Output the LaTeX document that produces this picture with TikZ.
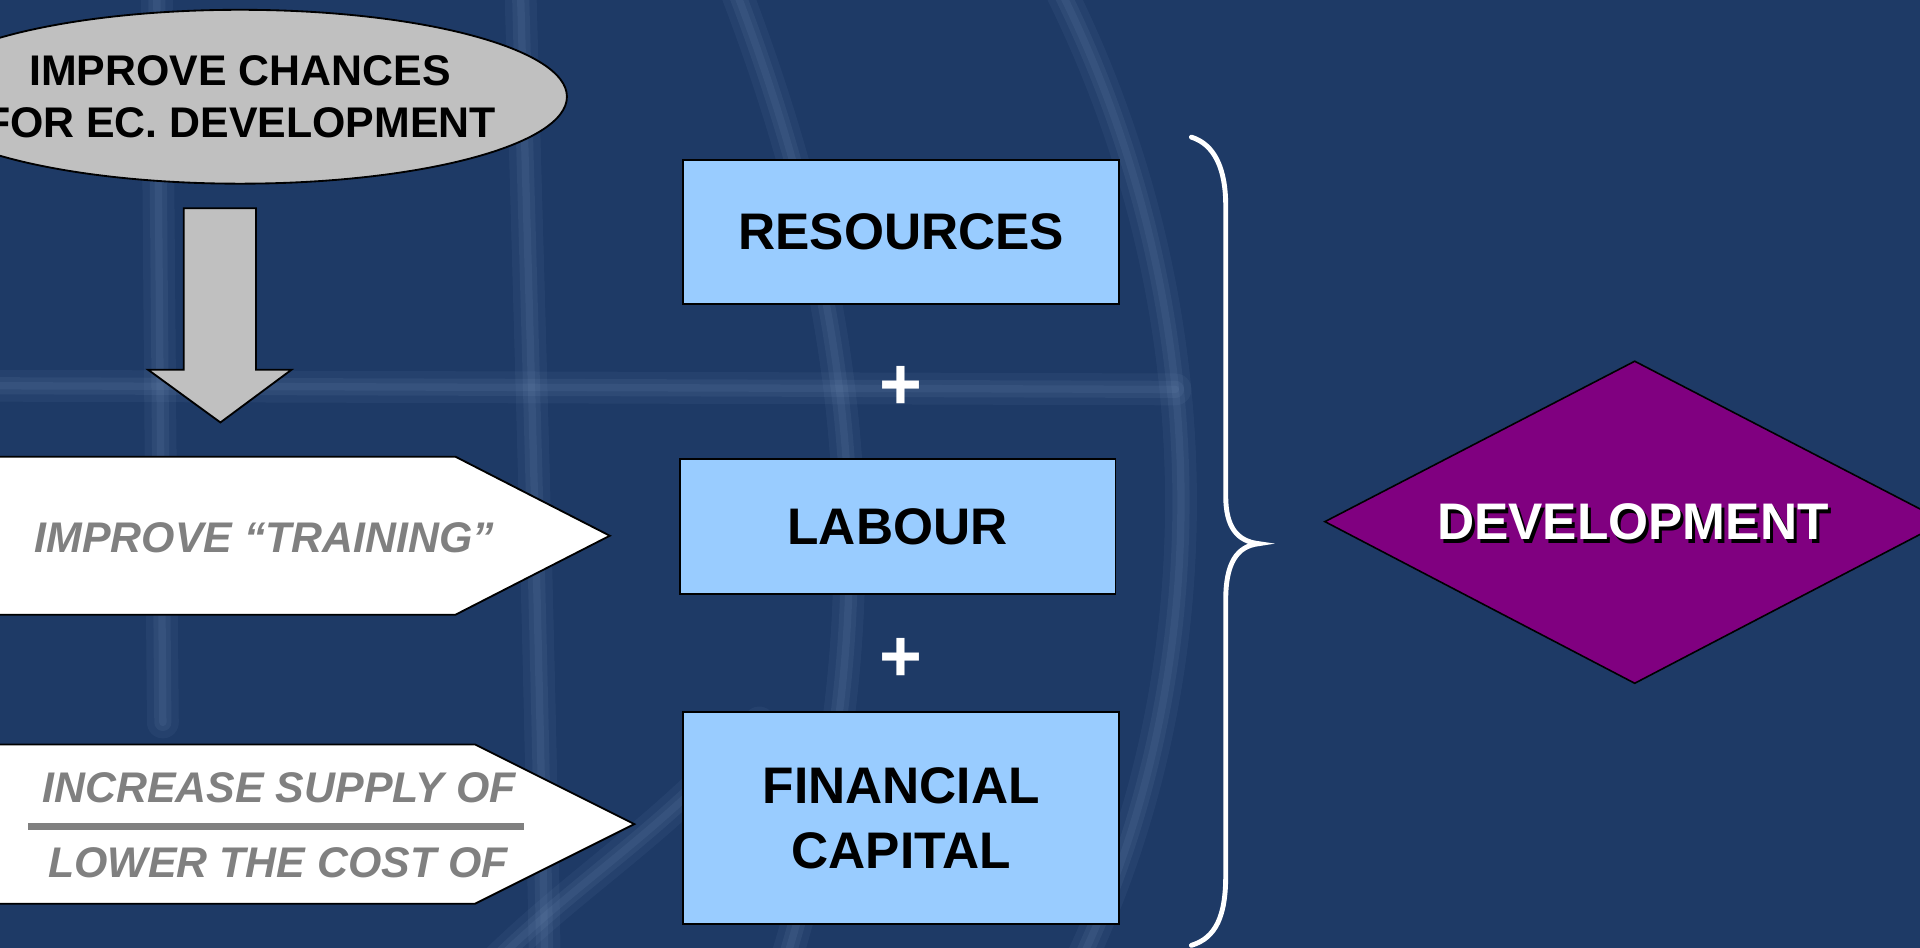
\documentclass[tikz,border=0pt]{standalone}
\usepackage{fontspec}
\setmainfont{Liberation Sans}
\usetikzlibrary{shapes.geometric}
\definecolor{bgnavy}{HTML}{1E3A66}
\definecolor{globe}{HTML}{8AA6CE}
\definecolor{boxblue}{HTML}{99CCFF}
\definecolor{silvergray}{HTML}{C0C0C0}
\definecolor{textgray}{HTML}{808080}
\definecolor{devpurple}{HTML}{800080}
\begin{document}
\begin{tikzpicture}[x=1pt,y=-1pt,
  outline/.style={draw=black,line width=1.5pt},
  bluebox/.style={outline,fill=boxblue,minimum width=356pt,inner sep=0pt,
    font=\fontsize{42}{53}\selectfont\bfseries,align=center},
  graytxt/.style={text=textgray,font=\fontsize{35}{42}\selectfont\bfseries\itshape,
    anchor=base,inner sep=0pt},
  plussign/.style={text=white,font=\fontsize{60}{60}\selectfont\bfseries,inner sep=0pt},
  devtext/.style={font=\fontsize{42}{42}\selectfont\bfseries,inner sep=0pt},
  globewide/.style={globe,line width=26pt,opacity=0.07,line cap=round},
  globeline/.style={globe,line width=14pt,opacity=0.09,line cap=round},
  globethin/.style={globe,line width=6pt,opacity=0.09,line cap=round},
  ]
\useasboundingbox (0,0) rectangle (1568,774);
\clip (0,0) rectangle (1568,774);
\fill[bgnavy] (0,0) rectangle (1568,774);
% faint globe in the background
\foreach \s in {globewide,globeline,globethin}{
  \draw[\s] (128,-10) -- (133,590);
  \draw[\s] (425,-10) .. controls (432,250) and (440,500) .. (445,790);
  \draw[\s] (-10,315) -- (960,318);
  \draw[\s] (865,-10) .. controls (995,250) and (995,550) .. (880,790);
  \draw[\s] (600,-10) .. controls (700,250) and (730,500) .. (640,790);
  \draw[\s] (400,790) .. controls (470,720) and (540,680) .. (620,590);
}
% top ellipse
\node[ellipse,outline,fill=silvergray,minimum width=534pt,minimum height=142pt,
  inner sep=0pt] (chances) at (196,79) {};
\node[align=center,inner sep=0pt,font=\fontsize{35}{43}\selectfont\bfseries]
  (chancestext) at (chances.center) {IMPROVE CHANCES\\FOR EC. DEVELOPMENT};
% down block arrow
\draw[outline,fill=silvergray] (150,170) -- (209,170) -- (209,302) -- (238,302)
  -- (180,345) -- (121,302) -- (150,302) -- cycle;
% white pointer 1
\draw[outline,fill=white] (-10,373) -- (372,373) -- (498,437.5) -- (372,502)
  -- (-10,502) -- cycle;
\node[graytxt] (training) at (216,451) {IMPROVE “TRAINING”};
% white pointer 2
\draw[outline,fill=white] (-10,608) -- (388,608) -- (518,673) -- (388,738)
  -- (-10,738) -- cycle;
\node[graytxt] (supply) at (228,655) {INCREASE SUPPLY OF};
\node[graytxt] (cost) at (227,717) {LOWER THE COST OF};
\coordinate (barL) at (23,675);
\coordinate (barR) at (428,675);
\draw[textgray,line width=6pt] (barL) -- (barR);
% blue boxes
\node[bluebox,minimum height=117pt] (res) at (736,189.5) {RESOURCES};
\node[plussign] (p1) at (736,317) {+};
\node[bluebox,minimum height=110pt] (lab) at (733,430) {LABOUR};
\node[plussign] (p2) at (736,539) {+};
\node[bluebox,minimum height=173pt] (fin) at (736,668) {FINANCIAL\\CAPITAL};
% brace
\coordinate (btop) at (973,112);
\coordinate (btip) at (1028,444);
\coordinate (bbot) at (973,772);
\draw[white,line width=4pt,line cap=round]
  (btop) .. controls (992,118) and (1001,138) .. (1001,168)
  -- (1001,405) .. controls (1001,430) and (1010,442) .. (btip)
  .. controls (1010,446) and (1001,460) .. (1001,490)
  -- (1001,715) .. controls (1001,748) and (993,766) .. (bbot);
% diamond
\draw[outline,fill=devpurple,line width=1.3pt] (1082,426) -- (1335,295) -- (1588,426)
  -- (1335,558) -- cycle;
\node[devtext,text=black] (devshadow) at (1336,429) {DEVELOPMENT};
\node[devtext,text=white] (dev) at (1333.5,426.5) {DEVELOPMENT};
\end{tikzpicture}
\end{document}
